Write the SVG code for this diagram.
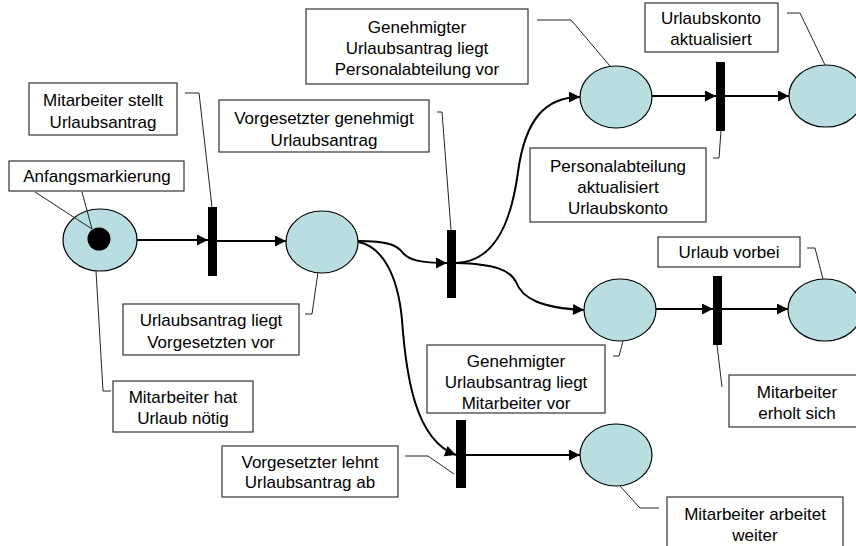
<svg xmlns="http://www.w3.org/2000/svg" width="856" height="546" viewBox="0 0 856 546">
<defs>
<marker id="ah" viewBox="0 0 10 10" refX="10" refY="5" markerWidth="6" markerHeight="5.5" markerUnits="strokeWidth" orient="auto">
<path d="M0,0 L10,5 L0,10 z" fill="#000"/>
</marker>
<style>
.box{fill:#fff;stroke:#333;stroke-width:1.2}
.lbl{font-family:"Liberation Sans",Arial,sans-serif;font-size:17px;fill:#000;text-anchor:middle}
.place{fill:#B9DEE1;stroke:#000;stroke-width:1.2}
.trans{fill:#000}
.arc{fill:none;stroke:#000;stroke-width:2;marker-end:url(#ah)}
.lead{fill:none;stroke:#222;stroke-width:1}
</style>
</defs>
<rect width="856" height="546" fill="#fff"/>

<g id="p1"><ellipse class="place" cx="100" cy="240" rx="37" ry="31"/><circle cx="99" cy="239" r="11.5" fill="#000"/></g>
<g id="p2"><ellipse class="place" cx="322" cy="242" rx="36" ry="31"/></g>
<g id="p3"><ellipse class="place" cx="616" cy="97" rx="36" ry="31"/></g>
<g id="p4"><ellipse class="place" cx="826" cy="96" rx="37" ry="31"/></g>
<g id="p5"><ellipse class="place" cx="620" cy="310" rx="36" ry="31"/></g>
<g id="p6"><ellipse class="place" cx="825" cy="310" rx="37" ry="31"/></g>
<g id="p7"><ellipse class="place" cx="616" cy="455" rx="36" ry="31"/></g>

<g id="t1"><rect class="trans" x="208" y="207" width="9" height="69"/></g>
<g id="t2"><rect class="trans" x="447" y="230" width="9" height="68"/></g>
<g id="t3"><rect class="trans" x="456" y="420" width="10" height="68"/></g>
<g id="t4"><rect class="trans" x="716" y="62" width="9" height="69"/></g>
<g id="t5"><rect class="trans" x="713" y="276" width="9" height="69"/></g>

<g id="connectors">
<path class="arc" d="M137,240 L208,240"/>
<path class="arc" d="M217,241 L286,241"/>
<path class="arc" d="M358,241 C388,241 397,245 403,253 C409,260 420,263 447,263"/>
<path class="arc" d="M456,263 C490,262 510,232 518,172 C525,120 545,97 580,97"/>
<path class="arc" d="M456,263 C495,264 510,270 516,282 C522,298 540,308 584,310"/>
<path class="arc" d="M358,242 C382,246 398,275 402,320 C406,375 415,440 456,455"/>
<path class="arc" d="M652,96 L716,96"/>
<path class="arc" d="M725,96 L789,96"/>
<path class="arc" d="M656,309 L713,309"/>
<path class="arc" d="M722,309 L788,309"/>
<path class="arc" d="M466,455 L580,455"/>
<polyline class="lead" points="185,93 199,93 212,207"/>
<polyline class="lead" points="35,192 92,229 82,192"/>
<polyline class="lead" points="96,271 103,391 111,391"/>
<polyline class="lead" points="318,272 312,314 305,314"/>
<polyline class="lead" points="437,112 442,112 451,230"/>
<polyline class="lead" points="537,20 571,20 610,66"/>
<polyline class="lead" points="787,13 800,13 825,65"/>
<polyline class="lead" points="721,131 719,158 713,158"/>
<polyline class="lead" points="807,248 815,248 823,279"/>
<polyline class="lead" points="623,341 619,356 613,356"/>
<polyline class="lead" points="717,345 722,387"/>
<polyline class="lead" points="405,456 428,456 454,474"/>
<polyline class="lead" points="620,486 640,508 659,508"/>
</g>

<g id="n1"><rect class="box" x="29" y="83" width="148" height="52"/><text class="lbl" x="103" y="106">Mitarbeiter stellt</text><text class="lbl" x="103" y="128">Urlaubsantrag</text></g>
<g id="n2"><rect class="box" x="9" y="161" width="175" height="30"/><text class="lbl" x="97" y="182">Anfangsmarkierung</text></g>
<g id="n3"><rect class="box" x="219" y="100" width="210" height="52"/><text class="lbl" x="324" y="124">Vorgesetzter genehmigt</text><text class="lbl" x="324" y="146">Urlaubsantrag</text></g>
<g id="n4"><rect class="box" x="306" y="9" width="222" height="75"/><text class="lbl" x="417" y="33">Genehmigter</text><text class="lbl" x="417" y="54">Urlaubsantrag liegt</text><text class="lbl" x="417" y="75">Personalabteilung vor</text></g>
<g id="n5"><rect class="box" x="645" y="3" width="133" height="49"/><text class="lbl" x="711" y="24">Urlaubskonto</text><text class="lbl" x="711" y="45">aktualisiert</text></g>
<g id="n6"><rect class="box" x="530" y="148" width="176" height="74"/><text class="lbl" x="618" y="172">Personalabteilung</text><text class="lbl" x="618" y="193">aktualisiert</text><text class="lbl" x="618" y="214">Urlaubskonto</text></g>
<g id="n7"><rect class="box" x="123" y="304" width="176" height="51"/><text class="lbl" x="211" y="326">Urlaubsantrag liegt</text><text class="lbl" x="211" y="348">Vorgesetzten vor</text></g>
<g id="n8"><rect class="box" x="113" y="381" width="140" height="51"/><text class="lbl" x="183" y="403">Mitarbeiter hat</text><text class="lbl" x="183" y="424">Urlaub nötig</text></g>
<g id="n9"><rect class="box" x="427" y="345" width="178" height="68"/><text class="lbl" x="516" y="367">Genehmigter</text><text class="lbl" x="516" y="388">Urlaubsantrag liegt</text><text class="lbl" x="516" y="409">Mitarbeiter vor</text></g>
<g id="n10"><rect class="box" x="658" y="237" width="142" height="30"/><text class="lbl" x="729" y="258">Urlaub vorbei</text></g>
<g id="n11"><rect class="box" x="729" y="375" width="137" height="52"/><text class="lbl" x="797" y="398">Mitarbeiter</text><text class="lbl" x="797" y="419">erholt sich</text></g>
<g id="n12"><rect class="box" x="222" y="446" width="176" height="51"/><text class="lbl" x="310" y="468">Vorgesetzter lehnt</text><text class="lbl" x="310" y="488">Urlaubsantrag ab</text></g>
<g id="n13"><rect class="box" x="667" y="497" width="176" height="60"/><text class="lbl" x="755" y="520">Mitarbeiter arbeitet</text><text class="lbl" x="755" y="541">weiter</text></g>
</svg>
